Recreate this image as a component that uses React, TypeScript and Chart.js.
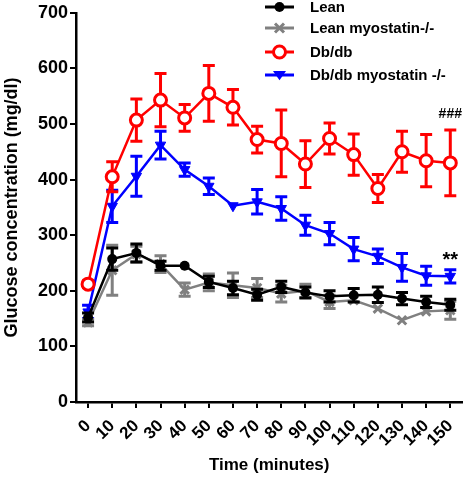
import React, { useEffect, useRef } from 'react';
import { Chart, registerables } from 'chart.js';

Chart.register(...registerables);

const timeLabels = ['0', '10', '20', '30', '40', '50', '60', '70', '80', '90', '100', '110', '120', '130', '140', '150'];

const leanMean = [152, 257, 268, 245, 245, 216, 205, 193, 207, 197, 190, 192, 193, 186, 180, 175];
const leanSem = [8, 20, 16, 8, 0, 10, 12, 10, 10, 10, 10, 12, 14, 11, 10, 10];

const leanKoMean = [143, 237, 266, 248, 202, 215, 210, 205, 195, 200, 180, 183, 168, 147, 163, 165];
const leanKoSem = [6, 45, 14, 15, 12, 15, 22, 17, 15, 12, 12, 0, 0, 0, 0, 16];

const dbMean = [212, 405, 507, 543, 511, 555, 530, 472, 465, 428, 474, 445, 384, 450, 434, 430];
const dbSem = [6, 27, 38, 48, 24, 50, 32, 24, 60, 42, 28, 37, 25, 37, 47, 59];

const dbKoMean = [162, 352, 406, 462, 418, 388, 353, 360, 348, 318, 303, 275, 262, 242, 227, 226];
const dbKoSem = [12, 29, 36, 25, 12, 15, 0, 22, 21, 18, 20, 21, 13, 25, 17, 12];

const seriesNames = ['Lean', 'Lean myostatin-/-', 'Db/db', 'Db/db myostatin -/-'];

const annotationTexts = ['###', '**'];
const annotationIndex = [15, 15];
const annotationValues = [517, 254];
const annotationSizes = [14, 20];

const FONT = "'Liberation Sans', Arial, Helvetica, sans-serif";

function drawMarker(ctx: CanvasRenderingContext2D, kind: string, x: number, y: number, color: string) {
  ctx.save();
  ctx.strokeStyle = color;
  ctx.fillStyle = color;
  if (kind === 'dot') {
    ctx.beginPath();
    ctx.arc(x, y, 5, 0, Math.PI * 2);
    ctx.fill();
  } else if (kind === 'x') {
    ctx.lineWidth = 3;
    const r = 4.5;
    ctx.beginPath();
    ctx.moveTo(x - r, y - r); ctx.lineTo(x + r, y + r);
    ctx.moveTo(x - r, y + r); ctx.lineTo(x + r, y - r);
    ctx.stroke();
  } else if (kind === 'ring') {
    ctx.lineWidth = 3;
    ctx.fillStyle = '#fff';
    ctx.beginPath();
    ctx.arc(x, y, 6, 0, Math.PI * 2);
    ctx.fill();
    ctx.stroke();
  } else if (kind === 'tri') {
    const r = 6.5;
    ctx.beginPath();
    ctx.moveTo(x - r, y - r * 0.6);
    ctx.lineTo(x + r, y - r * 0.6);
    ctx.lineTo(x, y + r * 0.8);
    ctx.closePath();
    ctx.fill();
  }
  ctx.restore();
}

const markerKinds = ['dot', 'x', 'ring', 'tri'];

const errorBarPlugin = {
  id: 'errorBars',
  beforeDatasetDraw(chart: any, args: any) {
    const ds = chart.data.datasets[args.index];
    const errs: number[] = ds.errors;
    if (!errs) return;
    const y = chart.scales.y;
    const ctx = chart.ctx;
    ctx.save();
    ctx.strokeStyle = ds.borderColor;
    ctx.lineWidth = 3;
    args.meta.data.forEach((pt: any, i: number) => {
      const e = errs[i];
      if (!e) return;
      const v = ds.data[i];
      const top = y.getPixelForValue(v + e);
      const bot = y.getPixelForValue(v - e);
      const x = pt.x;
      ctx.beginPath();
      ctx.moveTo(x, top); ctx.lineTo(x, bot);
      ctx.moveTo(x - 6, top); ctx.lineTo(x + 6, top);
      ctx.moveTo(x - 6, bot); ctx.lineTo(x + 6, bot);
      ctx.stroke();
    });
    ctx.restore();
  },
};

const legendPlugin = {
  id: 'customLegend',
  afterDraw(chart: any) {
    const ctx = chart.ctx;
    const rows = [7, 28, 52, 75];
    chart.data.datasets.forEach((ds: any, i: number) => {
      const y = rows[i];
      ctx.save();
      ctx.strokeStyle = ds.borderColor;
      ctx.lineWidth = 3;
      ctx.beginPath();
      ctx.moveTo(265, y); ctx.lineTo(294, y);
      ctx.stroke();
      ctx.restore();
      drawMarker(ctx, markerKinds[i], 279.5, y, ds.borderColor);
      ctx.save();
      ctx.fillStyle = '#000';
      ctx.font = `bold 15px ${FONT}`;
      ctx.textAlign = 'left';
      ctx.textBaseline = 'middle';
      ctx.fillText(ds.label, 310, y + 1);
      ctx.restore();
    });
    const xs = chart.scales.x;
    const ys = chart.scales.y;
    ctx.save();
    ctx.fillStyle = '#000';
    ctx.textAlign = 'center';
    ctx.textBaseline = 'middle';
    annotationTexts.forEach((t, i) => {
      ctx.font = `bold ${annotationSizes[i]}px ${FONT}`;
      ctx.fillText(t, xs.getPixelForValue(annotationIndex[i]), ys.getPixelForValue(annotationValues[i]));
    });
    ctx.restore();
  },
};

export default function App() {
  const ref = useRef<HTMLCanvasElement | null>(null);
  useEffect(() => {
    if (!ref.current) return;
    Chart.defaults.font.family = FONT;
    Chart.defaults.color = '#000';
    const chart = new Chart(ref.current, {
      type: 'line',
      data: {
        labels: timeLabels,
        datasets: [
          {
            label: seriesNames[0], data: leanMean, errors: leanSem,
            borderColor: '#000000', backgroundColor: '#000000', borderWidth: 2.5,
            pointStyle: 'circle', pointRadius: 5, pointBorderWidth: 0, pointBackgroundColor: '#000000',
          } as any,
          {
            label: seriesNames[1], data: leanKoMean, errors: leanKoSem,
            borderColor: '#808080', backgroundColor: '#808080', borderWidth: 2.5,
            pointStyle: 'crossRot', pointRadius: 6, pointBorderWidth: 3,
          } as any,
          {
            label: seriesNames[2], data: dbMean, errors: dbSem,
            borderColor: '#ff0000', backgroundColor: '#ff0000', borderWidth: 2.5,
            pointStyle: 'circle', pointRadius: 6, pointBorderWidth: 3, pointBackgroundColor: '#ffffff',
          } as any,
          {
            label: seriesNames[3], data: dbKoMean, errors: dbKoSem,
            borderColor: '#0000ff', backgroundColor: '#0000ff', borderWidth: 2.5,
            pointStyle: 'triangle', pointRotation: 180, pointRadius: 6, pointBorderWidth: 1, pointBackgroundColor: '#0000ff',
          } as any,
        ],
      },
      options: {
        responsive: false,
        animation: false,
        layout: { padding: { top: 10, right: 3, left: 0, bottom: 0 } },
        plugins: {
          legend: { display: false },
          tooltip: { enabled: false },
        },
        scales: {
          x: {
            type: 'category',
            offset: true,
            border: { display: true, color: '#000', width: 2.5 },
            grid: { display: true, drawOnChartArea: false, drawTicks: true, tickLength: 6, color: '#000', lineWidth: 2 },
            ticks: {
              autoSkip: false, minRotation: 45, maxRotation: 45, padding: 8,
              font: { size: 17, weight: 'bold', family: FONT }, color: '#000',
            },
            title: {
              display: true, text: 'Time (minutes)', color: '#000',
              font: { size: 17, weight: 'bold', family: FONT }, padding: { top: 0, bottom: 2 },
            },
            afterFit: (s: any) => { s.height = 76; },
          },
          y: {
            min: 0, max: 700,
            border: { display: true, color: '#000', width: 2.5 },
            grid: { display: true, drawOnChartArea: false, drawTicks: true, tickLength: 6, color: '#000', lineWidth: 2 },
            ticks: {
              stepSize: 100, padding: 2,
              font: { size: 18, weight: 'bold', family: FONT }, color: '#000',
            },
            title: {
              display: true, text: 'Glucose concentration (mg/dl)', color: '#000',
              font: { size: 18, weight: 'bold', family: FONT }, padding: { top: 1, bottom: 0 },
            },
            afterFit: (s: any) => { s.width = 76; },
          },
        },
      } as any,
      plugins: [errorBarPlugin, legendPlugin],
    });
    return () => chart.destroy();
  }, []);
  return (
    <div style={{ position: 'absolute', left: 0, top: 0, width: 473, height: 478, background: '#fff' }}>
      <canvas ref={ref} width={473} height={478} style={{ display: 'block' }} />
    </div>
  );
}
